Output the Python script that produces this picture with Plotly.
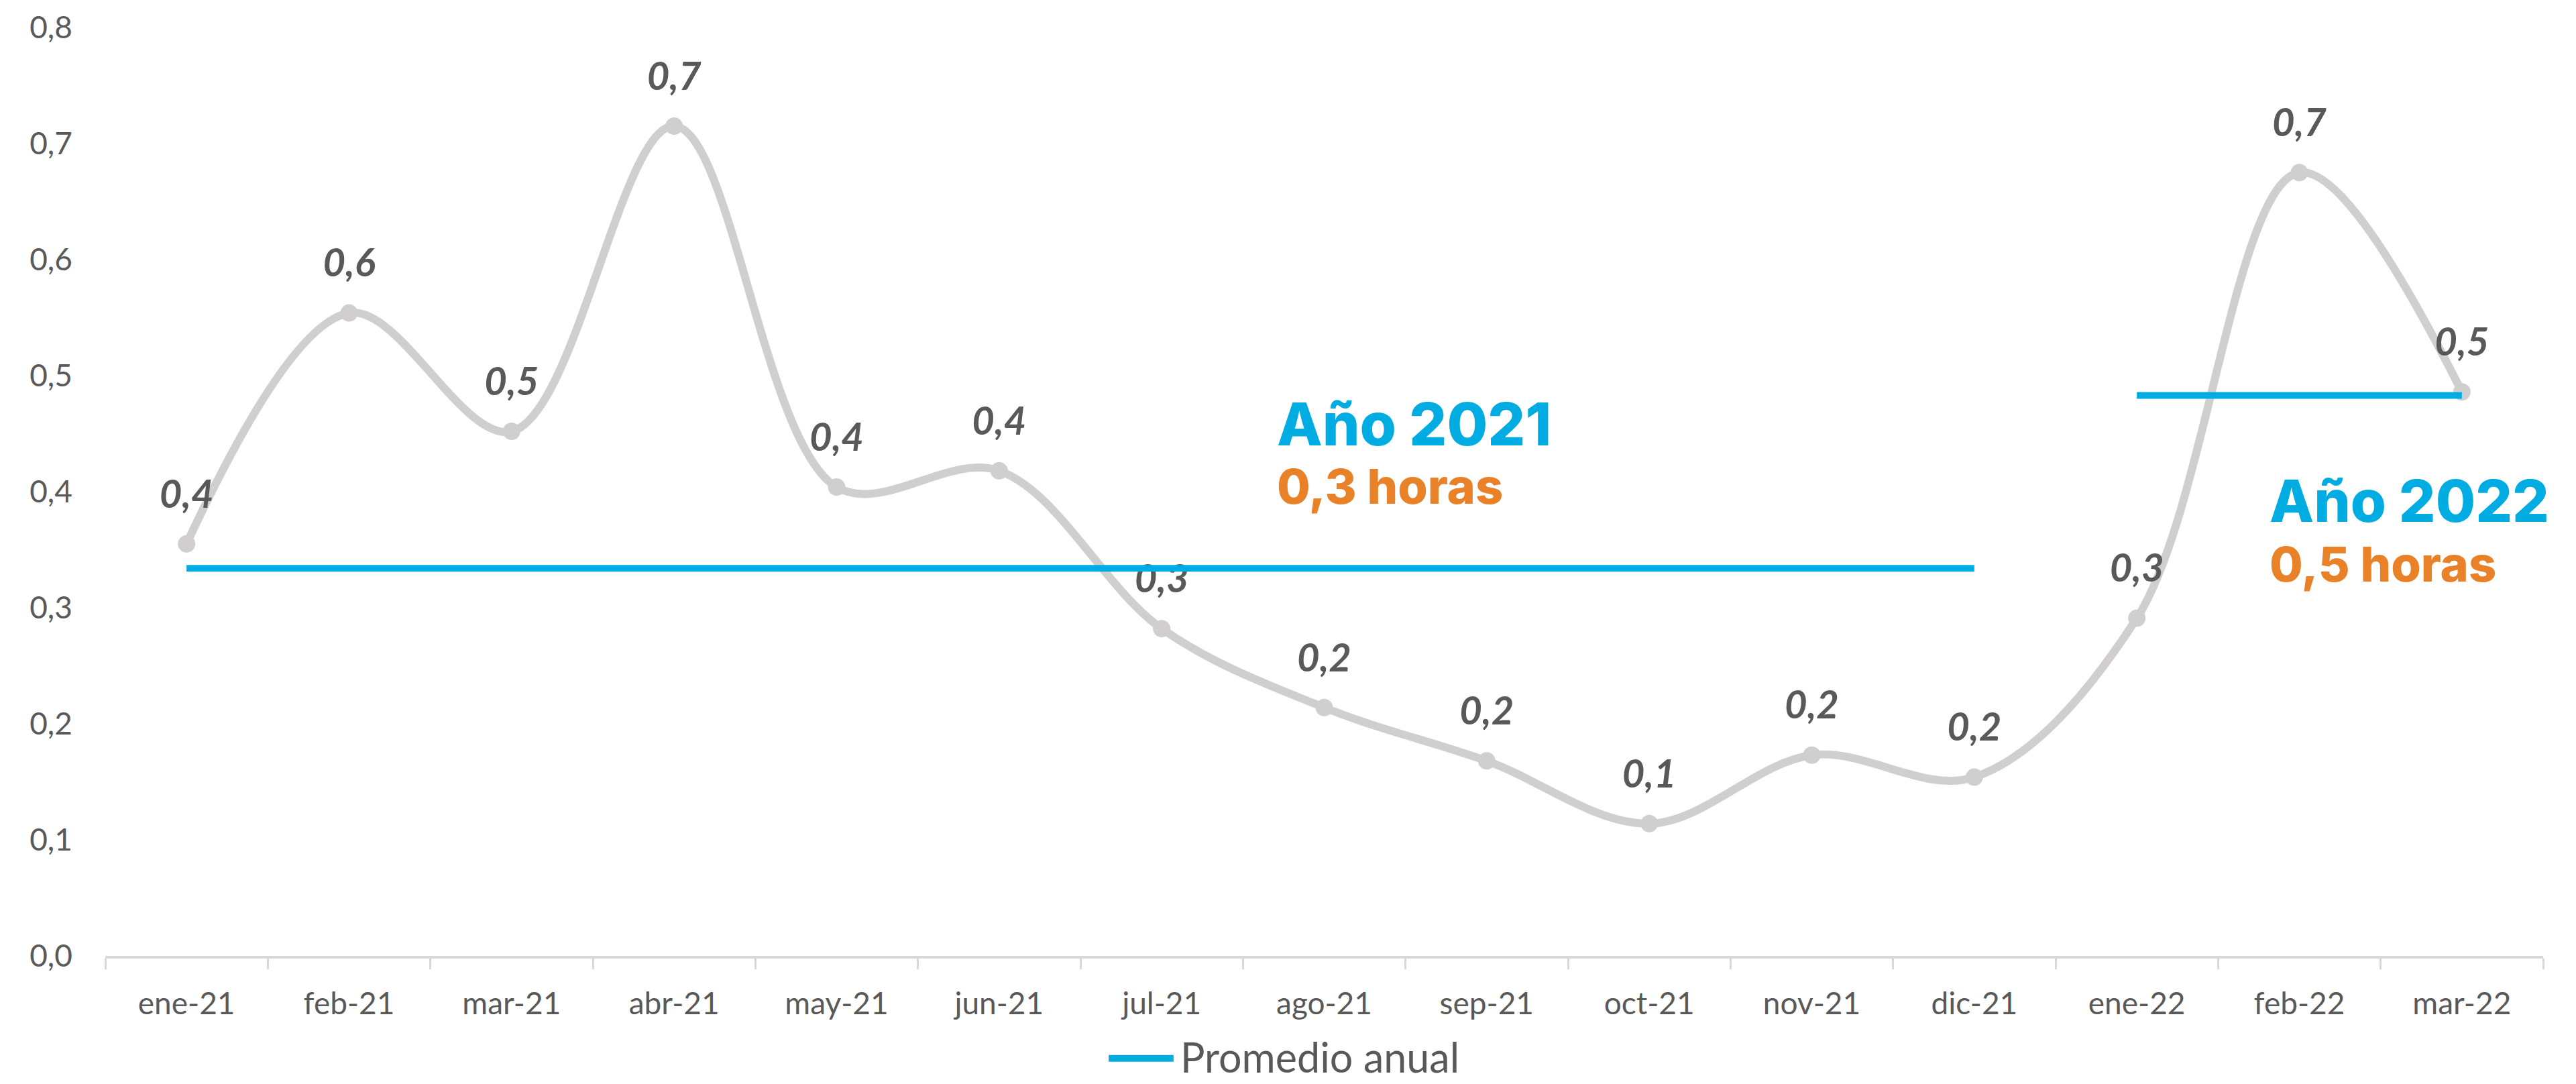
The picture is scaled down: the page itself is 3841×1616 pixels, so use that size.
import plotly.graph_objects as go

# ---- data ----
meses = ["ene-21", "feb-21", "mar-21", "abr-21", "may-21", "jun-21", "jul-21",
         "ago-21", "sep-21", "oct-21", "nov-21", "dic-21", "ene-22", "feb-22", "mar-22"]
horas = [0.355, 0.554, 0.452, 0.715, 0.404, 0.418, 0.282,
         0.214, 0.168, 0.114, 0.173, 0.154, 0.291, 0.675, 0.486]
meses_2021 = meses[:12]
meses_2022 = meses[12:]
promedio_2021 = 0.334
promedio_2022 = 0.483
y_ticks = [0.0, 0.1, 0.2, 0.3, 0.4, 0.5, 0.6, 0.7, 0.8]
legend_label = "Promedio anual"

GRAY_LINE = "#D0CECF"
TEXT = "#595959"
BLUE = "#00ACE1"
ORANGE = "#E88127"
AXIS = "#D9D9D9"
FONT = "Lato, Carlito, sans-serif"
TITLE_FONT = "Inter, Roboto, sans-serif"

fig = go.Figure()

# smoothed gray series with markers
fig.add_trace(go.Scatter(
    x=meses, y=horas,
    mode="lines+markers",
    line=dict(color=GRAY_LINE, width=12, shape="spline", smoothing=1.0),
    marker=dict(color=GRAY_LINE, size=26),
    showlegend=False,
    hoverinfo="skip",
))
# data labels (transparent larger marker to lift labels like the reference)
fig.add_trace(go.Scatter(
    x=meses, y=horas,
    mode="markers+text",
    marker=dict(color="rgba(0,0,0,0)", size=62),
    texttemplate="%{y:.1f}",
    textposition="top center",
    textfont=dict(family=FONT, size=58, color=TEXT, weight="bold", style="italic"),
    showlegend=False,
    hoverinfo="skip",
))

fig.add_trace(go.Scatter(
    x=meses_2021, y=[promedio_2021] * len(meses_2021),
    mode="lines",
    line=dict(color=BLUE, width=10),
    name=legend_label,
    showlegend=False,
))
fig.add_trace(go.Scatter(
    x=meses_2022, y=[promedio_2022] * len(meses_2022),
    mode="lines",
    line=dict(color=BLUE, width=10),
    name=legend_label,
    showlegend=False,
))

# legend drawn manually (long line key like the reference)
fig.add_shape(type="line", xref="paper", yref="paper",
              x0=0.4116, x1=0.4382, y0=-0.1103, y1=-0.1103,
              line=dict(color=BLUE, width=10))
fig.add_annotation(x=0.4405, y=-0.1363, xref="paper", yref="paper",
                   text=legend_label, showarrow=False,
                   xanchor="left", yanchor="bottom",
                   font=dict(family=FONT, size=61, color=TEXT))

annots = [
    dict(text="Año 2021", x=6.70, y=0.4585, color=BLUE, size=88),
    dict(text="0,3 horas", x=6.70, y=0.405, color=ORANGE, size=72),
    dict(text="Año 2022", x=12.81, y=0.392, color=BLUE, size=86),
    dict(text="0,5 horas", x=12.81, y=0.338, color=ORANGE, size=72),
]
for a in annots:
    fig.add_annotation(
        x=a["x"], y=a["y"], xref="x", yref="y",
        text=a["text"], showarrow=False,
        xanchor="left", yanchor="middle",
        font=dict(family=TITLE_FONT, size=a["size"], color=a["color"], weight=800),
    )

fig.update_layout(
    width=3841, height=1616,
    margin=dict(l=157, r=49, t=38, b=191),
    paper_bgcolor="white", plot_bgcolor="white",
    separators=",.",
    font=dict(family=FONT, color=TEXT),
    showlegend=False,
)

fig.update_xaxes(
    type="category",
    categoryorder="array", categoryarray=meses,
    showline=True, linecolor=AXIS, linewidth=4,
    ticks="outside", tickson="boundaries", ticklen=16, tickwidth=3, tickcolor=AXIS,
    tickfont=dict(family=FONT, size=46, color=TEXT),
    ticklabelstandoff=28,
    showgrid=False, zeroline=False,
    range=[-0.5, 14.5],
)
fig.update_yaxes(
    range=[0, 0.8],
    tickvals=y_ticks, tickformat=".1f",
    tickfont=dict(family=FONT, size=46, color=TEXT),
    showgrid=False, zeroline=False, showline=False,
    ticks="", ticklabelstandoff=48,
)

fig.write_html(
    "out.html",
    config={"displayModeBar": False},
    post_script="document.body.style.margin='0px';document.body.style.overflow='hidden';",
)
